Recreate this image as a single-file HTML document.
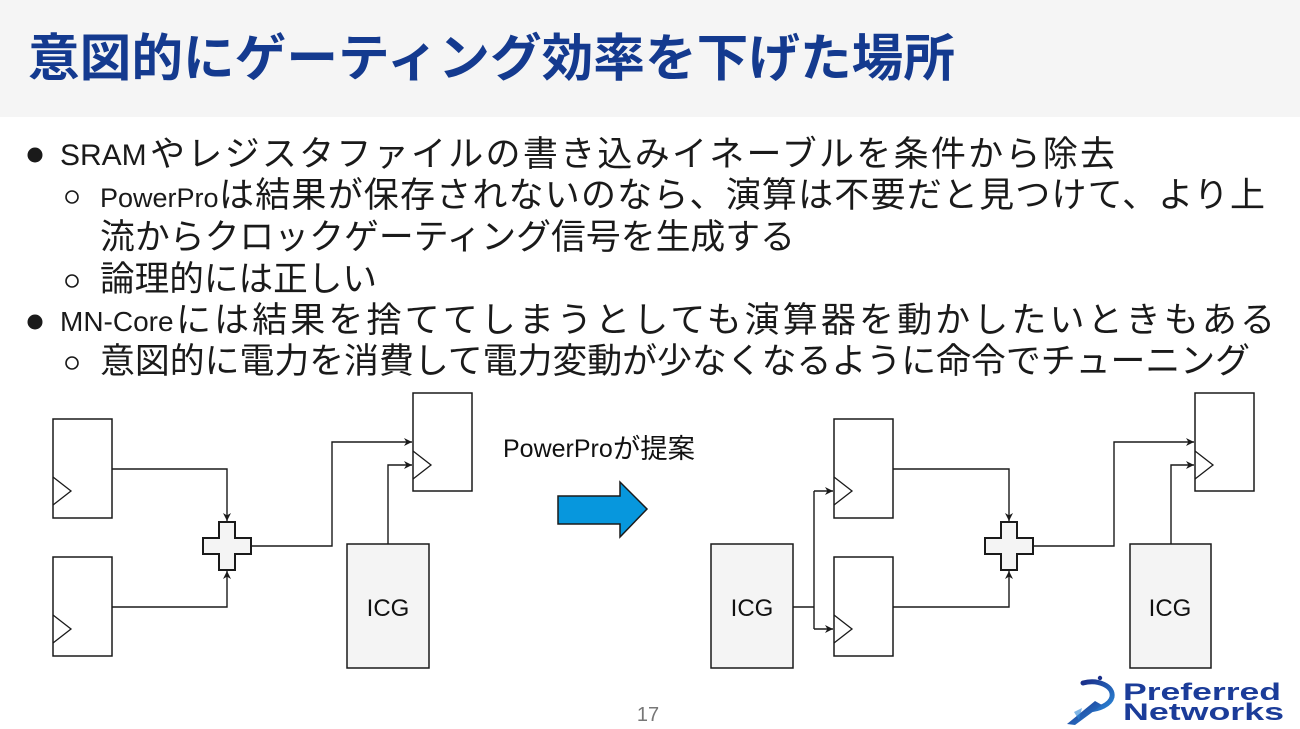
<!DOCTYPE html>
<html>
<head>
<meta charset="utf-8">
<style>
  html, body { margin: 0; padding: 0; background: #ffffff; }
  body { width: 1300px; height: 729px; overflow: hidden; }
  svg { display: block; }
  .t { font-family: "Liberation Sans", "Noto Sans CJK JP", sans-serif; }
</style>
</head>
<body>
<svg width="1300" height="729" viewBox="0 0 1300 729" xmlns="http://www.w3.org/2000/svg">
  <defs>
    <marker id="ah" viewBox="0 0 10 10" refX="10" refY="5" markerWidth="8" markerHeight="8" markerUnits="userSpaceOnUse" orient="auto">
      <path d="M0,0 L10,5 L0,10 L3,5 Z" fill="#1a1a1a"/>
    </marker>
    <linearGradient id="lg" x1="0" y1="0" x2="1" y2="1">
      <stop offset="0" stop-color="#1a2f8a"/>
      <stop offset="1" stop-color="#2b86d6"/>
    </linearGradient>
  </defs>

  <!-- title band -->
  <rect x="0" y="0" width="1300" height="117" fill="#f5f5f5"/>
  <text class="t" x="28" y="76" font-size="51" font-weight="bold" fill="#143a8f" textLength="927" lengthAdjust="spacingAndGlyphs">意図的にゲーティング効率を下げた場所</text>

  <!-- bullets -->
  <g fill="#1a1a1a">
    <circle cx="35" cy="155" r="7.5"/>
    <circle cx="35" cy="322" r="7.5"/>
  </g>
  <g fill="none" stroke="#1a1a1a" stroke-width="1.6">
    <circle cx="72" cy="197" r="6"/>
    <circle cx="72" cy="281" r="6"/>
    <circle cx="72" cy="363" r="6"/>
  </g>

  <g class="t" fill="#1a1a1a" font-size="35">
    <text x="60" y="165" font-size="30">SRAM</text>
    <text x="150" y="166" textLength="965" lengthAdjust="spacing">やレジスタファイルの書き込みイネーブルを条件から除去</text>
    <text x="100" y="207" font-size="27">PowerPro</text>
    <text x="219" y="207" textLength="1046" lengthAdjust="spacing">は結果が保存されないのなら、演算は不要だと見つけて、より上</text>
    <text x="100" y="249" textLength="695" lengthAdjust="spacingAndGlyphs">流からクロックゲーティング信号を生成する</text>
    <text x="100" y="291" textLength="277" lengthAdjust="spacingAndGlyphs">論理的には正しい</text>
    <text x="60" y="331" font-size="28">MN-Core</text>
    <text x="176" y="332" textLength="1099" lengthAdjust="spacing">には結果を捨ててしまうとしても演算器を動かしたいときもある</text>
    <text x="100" y="373" textLength="1150" lengthAdjust="spacingAndGlyphs">意図的に電力を消費して電力変動が少なくなるように命令でチューニング</text>
  </g>

  <!-- ================= Left diagram ================= -->
  <g stroke="#1a1a1a" stroke-width="1.5" fill="#ffffff">
    <rect x="53" y="419" width="59" height="99"/>
    <rect x="53" y="557" width="59" height="99"/>
    <rect x="413" y="393" width="59" height="98"/>
  </g>
  <g stroke="#1a1a1a" stroke-width="1.3" fill="none">
    <polyline points="53,477 71,491 53,505"/>
    <polyline points="53,615 71,629 53,643"/>
    <polyline points="413,451 431,465 413,479"/>
  </g>
  <rect x="347" y="544" width="82" height="124" fill="#f4f4f4" stroke="#1a1a1a" stroke-width="1.5"/>
  <text class="t" x="388" y="616" font-size="24" text-anchor="middle" fill="#111">ICG</text>

  <g stroke="#1a1a1a" stroke-width="1.4" fill="none">
    <path d="M112,469 H227 V521" marker-end="url(#ah)"/>
    <path d="M112,607 H227 V571" marker-end="url(#ah)"/>
    <path d="M251,546 H332 V442 H412" marker-end="url(#ah)"/>
    <path d="M388,544 V465 H412" marker-end="url(#ah)"/>
  </g>
  <polygon points="219,522 235,522 235,538 251,538 251,554 235,554 235,570 219,570 219,554 203,554 203,538 219,538" fill="#f4f4f4" stroke="#1a1a1a" stroke-width="2"/>

  <!-- middle arrow + label -->
  <text class="t" x="503" y="457" font-size="25" fill="#111">PowerPro</text>
  <text class="t" x="613" y="458" font-size="27" fill="#111" textLength="82" lengthAdjust="spacingAndGlyphs">が提案</text>
  <polygon points="558,496 620,496 620,482 647,509 620,537 620,524 558,524" fill="#0797dd" stroke="#1a1a1a" stroke-width="1.5"/>

  <!-- ================= Right diagram ================= -->
  <g stroke="#1a1a1a" stroke-width="1.5" fill="#ffffff">
    <rect x="834" y="419" width="59" height="99"/>
    <rect x="834" y="557" width="59" height="99"/>
    <rect x="1195" y="393" width="59" height="98"/>
  </g>
  <g stroke="#1a1a1a" stroke-width="1.3" fill="none">
    <polyline points="834,477 852,491 834,505"/>
    <polyline points="834,615 852,629 834,643"/>
    <polyline points="1195,451 1213,465 1195,479"/>
  </g>
  <rect x="711" y="544" width="82" height="124" fill="#f4f4f4" stroke="#1a1a1a" stroke-width="1.5"/>
  <text class="t" x="752" y="616" font-size="24" text-anchor="middle" fill="#111">ICG</text>
  <rect x="1130" y="544" width="81" height="124" fill="#f4f4f4" stroke="#1a1a1a" stroke-width="1.5"/>
  <text class="t" x="1170" y="616" font-size="24" text-anchor="middle" fill="#111">ICG</text>

  <g stroke="#1a1a1a" stroke-width="1.4" fill="none">
    <path d="M793,607 H814"/>
    <path d="M814,491 V629"/>
    <path d="M814,491 H833" marker-end="url(#ah)"/>
    <path d="M814,629 H833" marker-end="url(#ah)"/>
    <path d="M893,469 H1009 V521" marker-end="url(#ah)"/>
    <path d="M893,607 H1009 V571" marker-end="url(#ah)"/>
    <path d="M1033,546 H1114 V442 H1194" marker-end="url(#ah)"/>
    <path d="M1171,544 V465 H1194" marker-end="url(#ah)"/>
  </g>
  <polygon points="1001,522 1017,522 1017,538 1033,538 1033,554 1017,554 1017,570 1001,570 1001,554 985,554 985,538 1001,538" fill="#f4f4f4" stroke="#1a1a1a" stroke-width="2"/>

  <!-- page number -->
  <text class="t" x="648" y="721" font-size="20" text-anchor="middle" fill="#777">17</text>

  <!-- logo -->
  <circle cx="1100" cy="678" r="2.2" fill="#1a2f8a"/>
  <path d="M1083,683 C1098,679 1114,686 1112,697 C1110,705 1099,709 1089,710" fill="none" stroke="url(#lg)" stroke-width="5" stroke-linecap="round"/>
  <polygon points="1095,701 1102,705 1075,725 1067,724" fill="url(#lg)"/>
  <polygon points="1074,712 1082,708 1079,720" fill="#2b86d6" opacity="0.6"/>
  <text class="t" x="1123" y="700" font-size="24" font-weight="bold" fill="#1b3c99" textLength="158" lengthAdjust="spacingAndGlyphs">Preferred</text>
  <text class="t" x="1123" y="720" font-size="24" font-weight="bold" fill="#1b3c99" textLength="161" lengthAdjust="spacingAndGlyphs">Networks</text>
</svg>
</body>
</html>
